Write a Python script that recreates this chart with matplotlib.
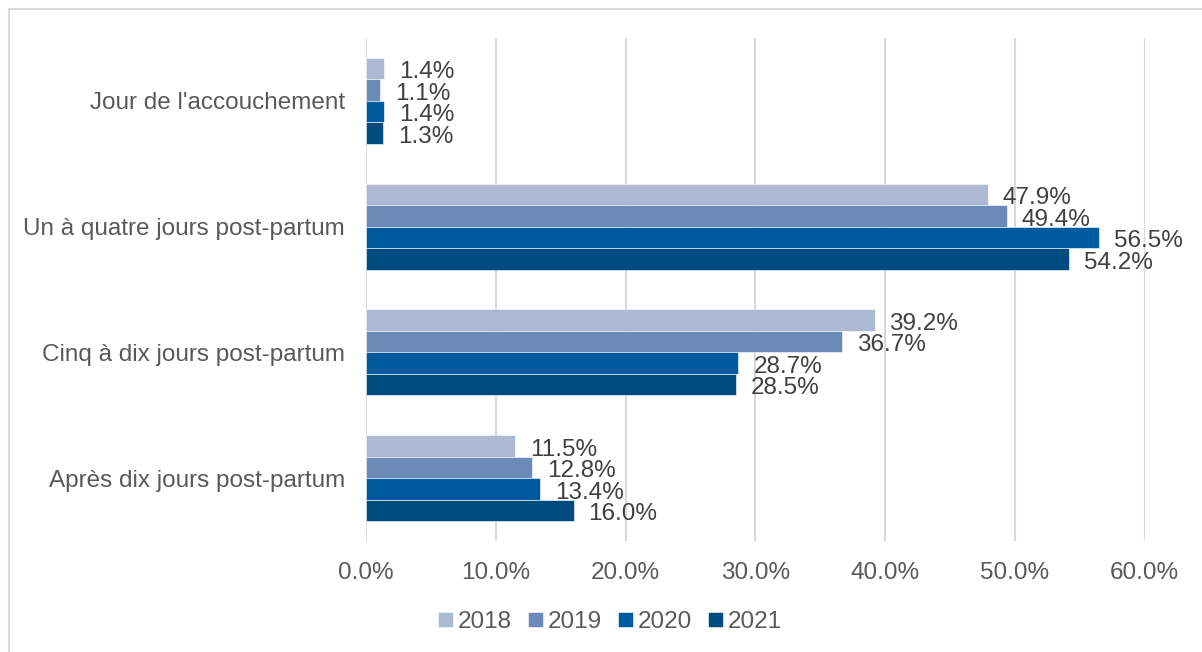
import matplotlib.pyplot as plt
import numpy as np
from matplotlib.patches import Rectangle

plt.rcParams['font.family'] = ['Liberation Sans', 'DejaVu Sans']

categories = ["Jour de l'accouchement", "Un à quatre jours post-partum",
              "Cinq à dix jours post-partum", "Après dix jours post-partum"]
years = ["2018", "2019", "2020", "2021"]
v2018 = [1.4, 47.9, 39.2, 11.5]
v2019 = [1.1, 49.4, 36.7, 12.8]
v2020 = [1.4, 56.5, 28.7, 13.4]
v2021 = [1.3, 54.2, 28.5, 16.0]
colors = ['#ADB9D3', '#6A8AB8', '#005A9E', '#004C80']

series = [v2018, v2019, v2020, v2021]

fig = plt.figure(figsize=(12.02, 6.52), dpi=100)
ax = fig.add_axes([366 / 1202, 1 - 541 / 652, (1144.5 - 366) / 1202, (541 - 38) / 652])

# thin grey frame like the Excel chart area
fig.patches.append(Rectangle((9 / 1202, -0.1), 1.2, 1 - 9 / 652 + 0.1,
                             transform=fig.transFigure, fill=False,
                             edgecolor='#D9D9D9', linewidth=1.5))

y = np.arange(len(categories))
h = 0.171
for i, (vals, yr, c) in enumerate(zip(series, years, colors)):
    pos = y + (i - 1.5) * h
    ax.barh(pos, vals, height=h, color=c, label=yr, zorder=3,
            edgecolor='white', linewidth=0.4)
    for p, v in zip(pos, vals):
        ax.text(v + 1.15, p + 0.03, f"{v:.1f}%", va='center', ha='left',
                fontsize=17.5, color='#404040', zorder=4)

ax.set_ylim(3.5, -0.5)
ax.set_xlim(0, 60)
ax.set_xticks(np.arange(0, 61, 10))
ax.set_xticklabels([f"{t:.1f}%" for t in np.arange(0, 61, 10)])
ax.set_yticks(y)
ax.set_yticklabels(categories)
ax.tick_params(axis='both', length=0, labelsize=17.5, colors='#595959')
ax.tick_params(axis='x', pad=15)
ax.tick_params(axis='y', pad=15)
ax.grid(axis='x', color='#D9D9D9', linewidth=1.5, zorder=0)
for s in ax.spines.values():
    s.set_visible(False)

handles, labels = ax.get_legend_handles_labels()
fig.legend(handles, labels, loc='center', bbox_to_anchor=(610 / 1202, 1 - 622 / 652),
           ncol=4, frameon=False, fontsize=17.5, handlelength=0.62, handleheight=0.62,
           handletextpad=0.2, columnspacing=0.65, labelcolor='#595959')

fig.savefig('out.png', dpi=100)
